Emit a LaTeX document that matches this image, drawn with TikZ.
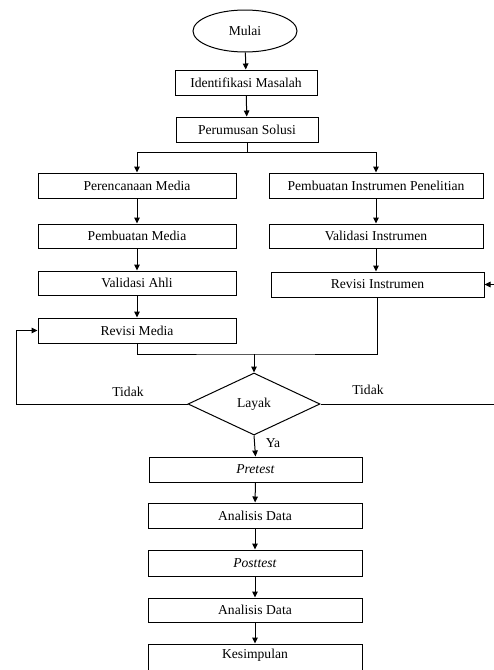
\documentclass[tikz,border=0pt]{standalone}
\usepackage{fontspec}
\setmainfont{Liberation Serif}
\usetikzlibrary{arrows.meta,shapes.geometric,calc}
\begin{document}
\begin{tikzpicture}[x=1pt,y=-1pt,
  every node/.style={font=\fontsize{13.6}{15}\selectfont},
  box/.style={draw,line width=1pt,rectangle,inner sep=0pt,anchor=center},
  flow/.style={draw,line width=1pt},
  arr/.style={flow,-{Triangle[length=6pt,width=5.5pt]}},
  lbl/.style={inner sep=0pt}]
\useasboundingbox (0,0) rectangle (494,670);
\node[draw,line width=1pt,ellipse,minimum width=104pt,minimum height=42pt,inner sep=0pt] (mulai) at (245,31) {Mulai};
\node[box,minimum width=142pt,minimum height=25pt] (ident) at (246,82.5) {Identifikasi Masalah};
\node[box,minimum width=142pt,minimum height=25pt] (perum) at (247,129.5) {Perumusan Solusi};
\node[box,minimum width=198pt,minimum height=25pt] (pmedia) at (137,185.5) {Perencanaan Media};
\node[box,minimum width=214pt,minimum height=25pt] (pinst) at (376,185.5) {Pembuatan Instrumen Penelitian};
\node[box,minimum width=198pt,minimum height=24pt] (bmedia) at (137,236) {Pembuatan Media};
\node[box,minimum width=214pt,minimum height=24pt] (vinst) at (376,236) {Validasi Instrumen};
\node[box,minimum width=198pt,minimum height=24pt] (vahli) at (137,283) {Validasi Ahli};
\node[box,minimum width=213pt,minimum height=25pt] (rinst) at (377.5,284.5) {Revisi Instrumen};
\node[box,minimum width=198pt,minimum height=25pt] (rmedia) at (137,330.5) {Revisi Media};
\node[draw,line width=1pt,diamond,aspect=2.13,minimum width=132pt,minimum height=62pt,inner sep=0pt] (layak) at (254,404) {Layak};
\node[box,minimum width=213pt,minimum height=25pt] (pre) at (255.5,469.5) {\textit{Pretest}};
\node[box,minimum width=214pt,minimum height=25pt] (ad1) at (255,515.5) {Analisis Data};
\node[box,minimum width=214pt,minimum height=26pt] (post) at (255,563) {\textit{Posttest}};
\node[box,minimum width=214pt,minimum height=24pt] (ad2) at (255,610) {Analisis Data};
\node[box,minimum width=214pt,minimum height=30pt] (kes) at (255,659) {};
\node[lbl] (kestext) at (255,655) {Kesimpulan};
\node[lbl] (t1) at (128,392) {Tidak};
\node[lbl] (t2) at (368,390) {Tidak};
\node[lbl] (ya) at (273,443) {Ya};
\coordinate (sl) at (137,152);
\coordinate (sr) at (376,152);
\coordinate (m) at (254,354);
\coordinate (lt) at (16,330.5);
\coordinate (rt) at (496,284.5);
\draw[arr] (mulai) -- (ident);
\draw[arr] (ident) -- (perum);
\draw[flow] (perum.south) -- (perum.south |- sl);
\draw[flow] (sl) -- (sr);
\draw[arr] (sl) -- (pmedia.north);
\draw[arr] (sr) -- (pinst.north);
\draw[arr] (pmedia) -- (bmedia);
\draw[arr] (bmedia) -- (vahli);
\draw[arr] (vahli) -- (rmedia);
\draw[arr] (pinst) -- (vinst);
\draw[arr] (vinst.south) -- (vinst.south |- rinst.north);
\draw[flow] (rmedia.south) |- (m) -| (rinst.south);
\draw[arr] (m) -- (layak.north);
\draw[arr] (layak.west) -| (lt) -- (rmedia.west);
\draw[arr] (layak.east) -| (rt) -- (rinst.east);
\draw[arr] (layak.south) -- (pre.north);
\draw[arr] (pre) -- (ad1);
\draw[arr] (ad1) -- (post);
\draw[arr] (post) -- (ad2);
\draw[arr] (ad2) -- (kes);
\end{tikzpicture}
\end{document}
